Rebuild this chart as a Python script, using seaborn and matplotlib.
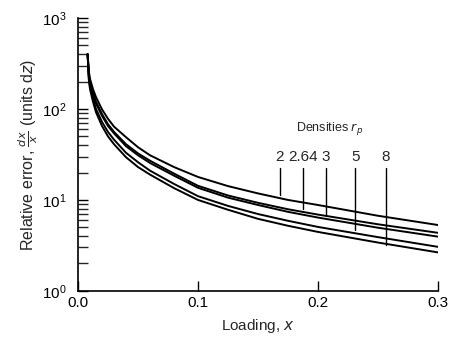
import numpy as np
import pandas as pd
import matplotlib
matplotlib.use("Agg")
import matplotlib.pyplot as plt
import seaborn as sns

# loading values (x) and relative error for each particle density
loading = [0.008, 0.009, 0.01, 0.0125, 0.015, 0.02, 0.025, 0.03, 0.04, 0.05,
           0.06, 0.08, 0.1, 0.125, 0.15, 0.175, 0.2, 0.25, 0.3]
err_2 = [400, 260, 215, 165, 135, 99, 78, 64, 49, 38, 31, 23, 17.9, 14.2,
         11.8, 10.0, 8.8, 6.7, 5.3]
err_264 = [400, 240, 195, 150, 120, 88, 68, 56, 41, 32.5, 27, 19.5, 14.3, 11.2,
           9.3, 7.9, 6.9, 5.4, 4.35]
err_3 = [400, 235, 190, 145, 115, 84, 65, 54, 39, 31, 25.5, 18.5, 13.6, 10.6,
         8.8, 7.4, 6.4, 4.95, 3.95]
err_5 = [400, 220, 175, 130, 100, 72, 56, 46, 33, 26, 21, 15, 11.0, 8.6,
         7.0, 5.9, 5.05, 3.9, 3.05]
err_8 = [400, 210, 165, 120, 92, 65, 50, 41, 29.5, 23, 19, 13.5, 10.0, 7.8,
         6.2, 5.2, 4.45, 3.4, 2.65]

densities = ["2", "2.64", "3", "5", "8"]
label_x = [0.1683, 0.1875, 0.2067, 0.231, 0.2567]  # where each label's pointer sits
label_top = 22.5   # top end of pointer lines
label_y = 25.0     # label text baseline value

series = [err_2, err_264, err_3, err_5, err_8]
df = pd.concat([pd.DataFrame({"loading": loading, "error": s, "density": d})
                for s, d in zip(series, densities)], ignore_index=True)

sns.set_style("ticks")
plt.rcParams['font.family'] = ['Liberation Sans', 'DejaVu Sans']
plt.rcParams['mathtext.fontset'] = 'dejavusans'

fig = plt.figure(figsize=(4.51, 3.41), dpi=100)
ax = fig.add_axes([0.173, 0.147, 0.798, 0.800])

sns.lineplot(data=df, x="loading", y="error", hue="density", units="density",
             estimator=None, palette=["black"] * 5, linewidth=1.4, legend=False, ax=ax)

ax.set_yscale("log")
ax.set_ylim(1, 1000)
ax.set_xlim(0, 0.3)
ax.set_xticks([0.0, 0.1, 0.2, 0.3])
ax.set_xticklabels(["0.0", "0.1", "0.2", "0.3"])
ax.tick_params(axis="both", which="major", direction="in", length=7, width=1,
               labelsize=11, colors="black")
ax.tick_params(axis="y", which="minor", direction="in", length=7, width=1)
ax.tick_params(axis="y", which="major", pad=8)
ax.tick_params(axis="x", which="major", pad=4)
sns.despine(ax=ax)
for sp in ["left", "bottom"]:
    ax.spines[sp].set_color("black")
    ax.spines[sp].set_linewidth(1.2)

# pointers from density labels to the curves
for d, lx, s in zip(densities, label_x, series):
    if d == "8":
        yb = np.interp(lx, loading, s) * 0.97
    else:
        yb = np.interp(lx, loading, s) * 1.08
    ax.plot([lx, lx], [label_top, yb], color="black", linewidth=1.0)
    ax.text(lx, label_y, d, ha="center", va="bottom", fontsize=11)

ax.text(0.21, 49, r"Densities $r_p$", ha="center", va="bottom", fontsize=9)

ax.set_xlabel(r"Loading, $x$", fontsize=11, labelpad=5)
ax.set_ylabel(r"Relative error, $\frac{dx}{x}$ (units d$z$)", fontsize=11.5, labelpad=2)

fig.savefig("out.png", dpi=100)
